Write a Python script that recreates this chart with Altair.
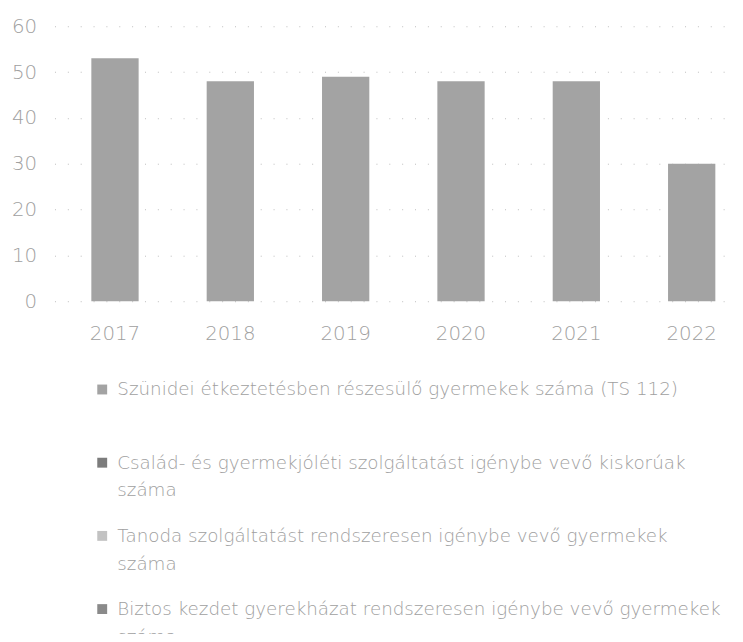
import altair as alt
import pandas as pd

years = ["2017", "2018", "2019", "2020", "2021", "2022"]
values = [53, 48, 49, 48, 48, 30]
series = [
    "Szünidei étkeztetésben részesülő gyermekek száma (TS 112)",
    "Család- és gyermekjóléti szolgáltatást igénybe vevő kiskorúak száma",
    "Tanoda szolgáltatást rendszeresen igénybe vevő gyermekek száma",
    "Biztos kezdet gyerekházat rendszeresen igénybe vevő gyermekek száma",
]
colors = ["#a3a3a3", "#7c7c7c", "#c2c2c2", "#8a8a8a"]
y_ticks = [0, 10, 20, 30, 40, 50, 60]

df = pd.DataFrame({"year": years, "value": values, "series": series[0]})

FONT = "DejaVu Sans"
TEXT = "#a0a0a0"

label_expr = (
    "indexof(datum.label, 'TS 112') >= 0 ? [datum.label, ''] : "
    "[substring(datum.label, 0, length(datum.label) - 6), 'száma']"
)

chart = alt.Chart(df).mark_bar().encode(
    x=alt.X(
        "year:N",
        sort=years,
        scale=alt.Scale(paddingInner=0.59, paddingOuter=0.245, align=0.652),
        axis=alt.Axis(
            title=None, labelAngle=0, domain=False, ticks=False,
            labelPadding=23, labelFontSize=20, labelColor=TEXT,
            labelFont=FONT, labelFontWeight=200,
        ),
    ),
    y=alt.Y(
        "value:Q",
        scale=alt.Scale(domain=[0, 60], nice=False),
        axis=alt.Axis(
            title=None, values=y_ticks, domain=False, ticks=False,
            labelPadding=18, labelFontSize=20, labelColor=TEXT,
            labelFont=FONT, labelFontWeight=200,
            grid=True, gridColor="#bdbdbd", gridDash=[1, 12], gridWidth=1,
        ),
    ),
    color=alt.Color(
        "series:N",
        scale=alt.Scale(domain=series, range=colors),
        legend=alt.Legend(
            title=None, orient="none", legendX=39, legendY=349,
            direction="vertical", symbolType="M-1,0.8H1V2.8H-1Z",
            symbolSize=100, symbolStrokeWidth=0, labelFontSize=18.5,
            labelColor=TEXT, labelFont=FONT, labelFontWeight=200,
            labelLimit=700, labelExpr=label_expr, rowPadding=18,
            labelOffset=6, labelBaseline="top", padding=0,
        ),
    ),
).properties(
    width=688,
    height=278,
    autosize=alt.AutoSizeParams(type="none"),
    padding={"left": 47, "top": 15, "right": 0, "bottom": 333},
).configure(
    background="white",
    style={"guide-label": {"lineHeight": 28}},
).configure_view(
    stroke=None
)

chart.save("out.html", embed_options={"renderer": "svg", "actions": False})
